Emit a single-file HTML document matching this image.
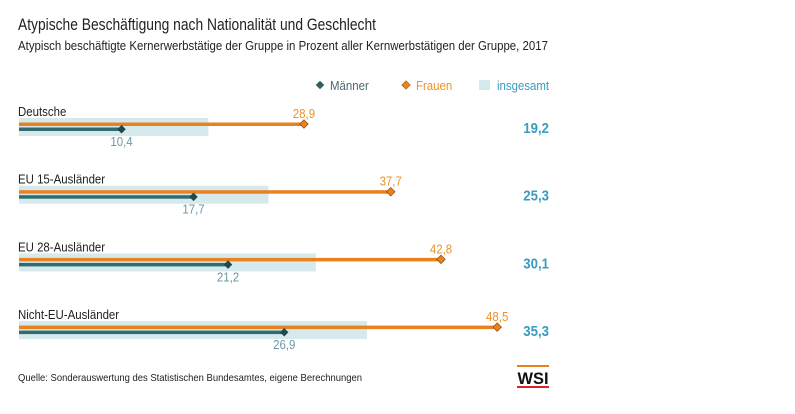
<!DOCTYPE html>
<html><head><meta charset="utf-8"><style>
html,body{margin:0;padding:0;background:#fff;}
svg{display:block;font-family:"Liberation Sans Narrow","Liberation Sans",sans-serif;}
</style></head><body>
<svg id="chart" width="795" height="414" viewBox="0 0 795 414">
<text x="18" y="30" font-size="17" fill="#222" textLength="358" lengthAdjust="spacingAndGlyphs">Atypische Beschäftigung nach Nationalität und Geschlecht</text>
<text x="18" y="50" font-size="12.5" fill="#222" textLength="530" lengthAdjust="spacingAndGlyphs">Atypisch beschäftigte Kernerwerbstätige der Gruppe in Prozent aller Kernwerbstätigen der Gruppe, 2017</text>
<g>
<g><rect x="317" y="82" width="6" height="6" fill="#2f5f63" transform="rotate(45 320 85)"/><text class="cond" x="330" y="90" font-size="13" fill="#4a6a70">Männer</text></g>
<g><rect x="403" y="82" width="6" height="6" fill="#e8821e" stroke="#a05a10" stroke-width="0.6" transform="rotate(45 406 85)"/><text class="cond" x="416" y="90" font-size="13" fill="#f0902a">Frauen</text></g>
<g><rect x="479" y="80" width="11" height="10" fill="#d6eaee"/><text class="cond" x="497" y="90" font-size="13" fill="#3a9cc0">insgesamt</text></g>
</g>
<g id="rows"></g>
<text x="18" y="381" font-size="10.5" fill="#222" textLength="344" lengthAdjust="spacingAndGlyphs">Quelle: Sonderauswertung des Statistischen Bundesamtes, eigene Berechnungen</text>
<g>
<rect x="517" y="365" width="32" height="2" fill="#e8821e"/>
<text x="533" y="384" font-size="17" font-weight="bold" text-anchor="middle" fill="#111" font-family="Liberation Sans,sans-serif" textLength="31" lengthAdjust="spacingAndGlyphs">WSI</text>
<rect x="517" y="386" width="32" height="2" fill="#e0202a"/>
</g>
</svg>
<script>
const categories = ["Deutsche","EU 15-Ausländer","EU 28-Ausländer","Nicht-EU-Ausländer"];
const maenner = [10.4,17.7,21.2,26.9];
const frauen = [28.9,37.7,42.8,48.5];
const insgesamt = [19.2,25.3,30.1,35.3];
const fmt = v => v.toFixed(1).replace('.',',');
const x = v => 19 + v*9.86;
const rowY = i => 124 + i*67.7;
const NS="http://www.w3.org/2000/svg";
const g=document.getElementById('rows');
function mk(t,a,txt){const e=document.createElementNS(NS,t);for(const k in a)e.setAttribute(k,a[k]);if(txt!==undefined)e.textContent=txt;g.appendChild(e);return e;}
categories.forEach((c,i)=>{
 const y=rowY(i);
 let e;
 e=mk('text',{x:18,y:y-8,'font-size':13,fill:'#222',class:'cond'},c);
 
 
 e=mk('rect',{x:19,y:y-6,width:x(insgesamt[i])-19,height:18,fill:'#d6eaee'});
 
 
 e=mk('rect',{x:19,y:y-1.5,width:x(frauen[i])-19,height:3.5,fill:'#e8821e'});
 
 
 e=mk('rect',{x:x(frauen[i])-3,y:y-3,width:6,height:6,fill:'#e8821e',stroke:'#8a4a10','stroke-width':0.7,transform:`rotate(45 ${x(frauen[i])} ${y})`});
 
 
 e=mk('rect',{x:19,y:y+3.5,width:x(maenner[i])-19,height:3.5,fill:'#2f6b70'});
 
 
 e=mk('rect',{x:x(maenner[i])-3,y:y+2.2,width:6,height:6,fill:'#1f4a4e',transform:`rotate(45 ${x(maenner[i])} ${y+5.2})`});
 
 
 e=mk('text',{x:x(frauen[i]),y:y-6,'font-size':13,fill:'#f0902a','text-anchor':'middle',class:'cond'},fmt(frauen[i]));
 
 
 e=mk('text',{x:x(maenner[i]),y:y+22,'font-size':13,fill:'#6a9aa4','text-anchor':'middle',class:'cond'},fmt(maenner[i]));
 
 
 e=mk('text',{x:549,y:y+9,'font-size':15,'font-weight':'bold',fill:'#3a9cc0','text-anchor':'end',class:'cond'},fmt(insgesamt[i]));
 
 
});
document.querySelectorAll('text.cond').forEach(t=>{
 const w=t.getComputedTextLength();
 t.setAttribute('textLength',(w*0.88).toFixed(1));
 t.setAttribute('lengthAdjust','spacingAndGlyphs');
});
</script>
</body></html>
